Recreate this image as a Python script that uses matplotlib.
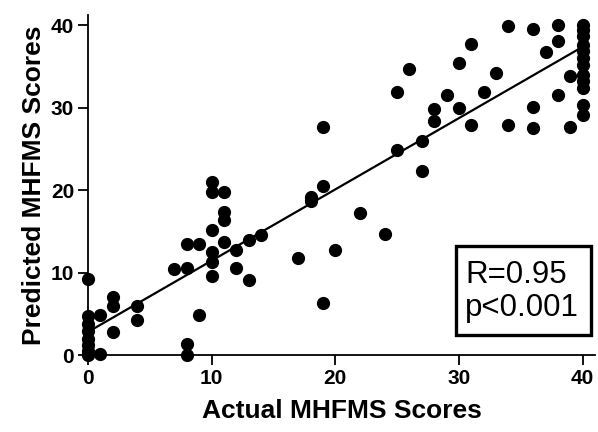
import matplotlib
matplotlib.use("Agg")
import matplotlib.pyplot as plt
from matplotlib.patches import Rectangle
import numpy as np

plt.rcParams['font.family'] = ['Liberation Sans', 'DejaVu Sans']

# Actual vs predicted MHFMS scores
actual = [0, 0, 0, 0, 0, 0, 0, 0,
          1, 1,
          2, 2, 2,
          4, 4,
          7,
          8, 8, 8, 8,
          9, 9,
          10, 10, 10, 10, 10, 10,
          11, 11, 11, 11,
          12, 12,
          13, 13,
          14, 17, 18, 18,
          19, 19, 19,
          20, 22, 24,
          25, 25, 26, 27, 27,
          28, 28, 29, 30, 30, 31, 31, 32, 33, 34, 34,
          36, 36, 36, 37, 38, 38, 38, 39, 39,
          40, 40, 40, 40, 40, 40, 40, 40, 40, 40, 40, 40]
predicted = [9.2, 4.7, 3.8, 2.9, 2.0, 1.2, 0.5, 0.0,
             4.8, 0.1,
             7.0, 5.9, 2.8,
             5.9, 4.2,
             10.4,
             13.5, 10.5, 1.4, 0.0,
             13.5, 4.85,
             21.0, 19.8, 15.2, 12.5, 11.3, 9.6,
             19.8, 17.4, 16.4, 13.7,
             12.7, 10.6,
             13.9, 9.1,
             14.5, 11.8, 19.2, 18.7,
             27.6, 20.5, 6.3,
             12.7, 17.2, 14.7,
             31.9, 24.8, 34.7, 25.9, 22.3,
             29.8, 28.4, 31.5, 35.4, 29.9, 37.7, 27.9, 31.9, 34.2, 39.9, 27.9,
             39.5, 30.1, 27.5, 36.7, 40.0, 38.1, 31.5, 33.8, 27.7,
             40.0, 39.4, 38.7, 37.6, 36.9, 36.0, 35.2, 34.0, 33.2, 32.4, 30.3, 29.1]

# regression line as drawn
fit_intercept = 2.8
fit_slope = 0.864
fit_range = [0, 39.6]

fig = plt.figure(figsize=(5.98, 4.32), dpi=100)
ax = fig.add_axes([0.147, 0.178, 0.848, 0.787])

ax.plot(actual, predicted, 'o', color='black', markersize=8.5, clip_on=False, zorder=3)
fx = np.array(fit_range)
ax.plot(fx, fit_intercept + fit_slope * fx, color='black', lw=1.6, zorder=2)

ax.set_xlim(0, 41)
ax.set_ylim(0, 41.2)
ax.set_xticks([0, 10, 20, 30, 40])
ax.set_yticks([0, 10, 20, 30, 40])

for s in ['top', 'right']:
    ax.spines[s].set_visible(False)
for s in ['left', 'bottom']:
    ax.spines[s].set_linewidth(1.3)

ax.tick_params(direction='out', length=7, width=1.3, labelsize=15, pad=3)
for lbl in ax.get_xticklabels() + ax.get_yticklabels():
    lbl.set_fontweight('bold')

ax.set_xlabel('Actual MHFMS Scores', fontsize=19, fontweight='bold', labelpad=8)
ax.set_ylabel('Predicted MHFMS Scores', fontsize=19, fontweight='bold', labelpad=3)

# stats box
fig.patches.append(Rectangle((0.7625, 0.2245), 0.2258, 0.206, transform=fig.transFigure,
                             facecolor='white', edgecolor='black', linewidth=2.4, zorder=5))
fig.text(0.778, 0.325, 'R=0.95\np<0.001', ha='left', va='center',
         fontsize=22.5, linespacing=1.12, zorder=6)

fig.savefig('out.png', dpi=100)
